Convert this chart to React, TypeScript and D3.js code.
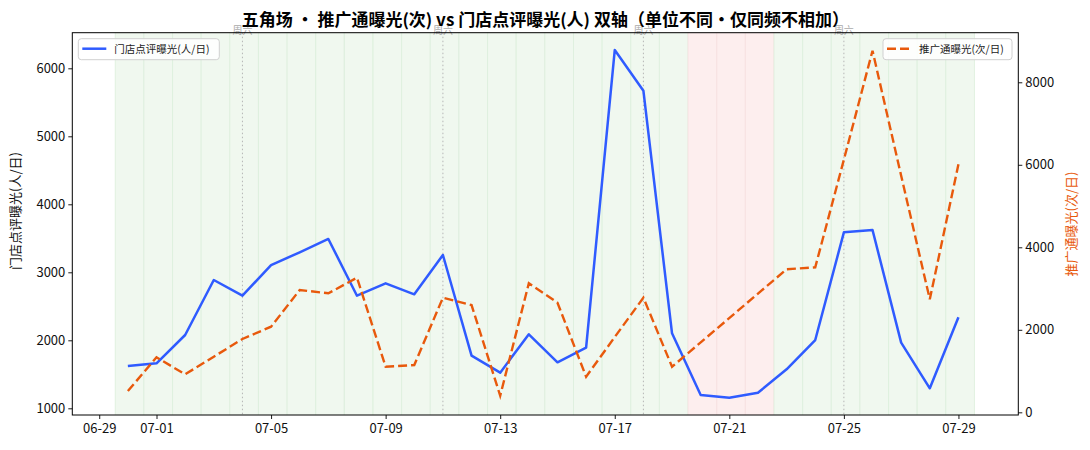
import React, { useRef, useEffect } from 'react';
import * as d3 from 'd3';

// 日期（月-日），2026年7月
const days = [
  '06-30', '07-01', '07-02', '07-03', '07-04', '07-05', '07-06', '07-07', '07-08', '07-09',
  '07-10', '07-11', '07-12', '07-13', '07-14', '07-15', '07-16', '07-17', '07-18', '07-19',
  '07-20', '07-21', '07-22', '07-23', '07-24', '07-25', '07-26', '07-27', '07-28', '07-29',
];

// 门店点评曝光(人/日)
const dianpingExposure = [
  1622, 1662, 2078, 2887, 2656, 3107, 3294, 3490, 2656, 2838,
  2676, 3254, 1774, 1524, 2088, 1676, 1891, 6269, 5671, 2103,
  1196, 1156, 1229, 1573, 2004, 3588, 3622, 1965, 1294, 2338,
];

// 推广通曝光(次/日)，07-20 ~ 07-22 无数据
const promoExposure: (number | null)[] = [
  516, 1333, 921, 1348, 1777, 2075, 2965, 2885, 3263, 1105,
  1147, 2778, 2601, 402, 3127, 2657, 863, 1825, 2778, 1105,
  null, null, null, 3467, 3515, 6124, 8766, 5736, 2739, 6012,
];

const pausedDays = ['07-20', '07-21', '07-22'];
const saturdays = ['07-04', '07-11', '07-18', '07-25'];
const xTickLabels = ['06-29', '07-01', '07-05', '07-09', '07-13', '07-17', '07-21', '07-25', '07-29'];
const leftTicks = [1000, 2000, 3000, 4000, 5000, 6000];
const rightTicks = [0, 2000, 4000, 6000, 8000];

const BLUE = '#2f5bff';
const ORANGE = '#e8590c';
const FONT = '"Noto Sans CJK SC", "Noto Sans", sans-serif';
const DAY = 86400000;

const toDate = (md: string) => {
  const [m, d] = md.split('-').map(Number);
  return new Date(2026, m - 1, d);
};
const shift = (dt: Date, n: number) => new Date(dt.getTime() + n * DAY);

export default function App() {
  const svgRef = useRef<SVGSVGElement>(null);

  useEffect(() => {
    if (!svgRef.current) return;
    const W = 1090, H = 450;
    const margin = { top: 32.7, right: 1090 - 1018.3, bottom: 450 - 415, left: 72.3 };

    const svg = d3.select(svgRef.current).attr('width', W).attr('height', H);
    svg.selectAll('*').remove();

    const x0 = toDate('07-01');
    const x = d3.scaleTime()
      .domain([shift(x0, -2.94), shift(x0, 30.09)])
      .range([margin.left, W - margin.right]);
    const yL = d3.scaleLinear().domain([901.5, 6523.5]).range([H - margin.bottom, margin.top]);
    const yR = d3.scaleLinear().domain([-65, 9202]).range([H - margin.bottom, margin.top]);

    const g = svg.append('g');

    // 每日背景色带
    days.forEach(d => {
      const dt = toDate(d);
      const paused = pausedDays.includes(d);
      const xa = x(shift(dt, -0.44)), xb = x(shift(dt, 0.56));
      g.append('rect')
        .attr('x', xa).attr('y', margin.top)
        .attr('width', xb - xa).attr('height', H - margin.bottom - margin.top)
        .attr('fill', paused ? '#fdeeee' : '#f0f8ef');
      [xa, xb].forEach(xv => g.append('line')
        .attr('x1', xv).attr('x2', xv)
        .attr('y1', margin.top).attr('y2', H - margin.bottom)
        .attr('stroke', paused ? '#f8dede' : '#dcefdc').attr('stroke-width', 0.8));
    });

    // 周六虚线 + 标注
    saturdays.forEach(d => {
      const xv = x(toDate(d));
      g.append('line')
        .attr('x1', xv).attr('x2', xv)
        .attr('y1', margin.top).attr('y2', H - margin.bottom)
        .attr('stroke', '#b5b5b5').attr('stroke-width', 1)
        .attr('stroke-dasharray', '1.5,2.5');
      g.append('text')
        .attr('x', xv).attr('y', margin.top + 1)
        .attr('text-anchor', 'middle')
        .attr('font-family', FONT).attr('font-size', 10)
        .attr('fill', '#aaaaaa')
        .text('周六');
    });

    // 门店点评曝光（左轴）
    const blueLine = d3.line<number>()
      .x((_, i) => x(toDate(days[i])))
      .y(v => yL(v));
    g.append('path')
      .datum(dianpingExposure)
      .attr('d', blueLine)
      .attr('fill', 'none').attr('stroke', BLUE).attr('stroke-width', 2.5)
      .attr('stroke-linejoin', 'round');

    // 推广通曝光（右轴，虚线）
    const promoPts = days
      .map((d, i) => ({ d: toDate(d), v: promoExposure[i] }))
      .filter(p => p.v !== null) as { d: Date; v: number }[];
    const orangeLine = d3.line<{ d: Date; v: number }>()
      .x(p => x(p.d))
      .y(p => yR(p.v));
    g.append('path')
      .datum(promoPts)
      .attr('d', orangeLine)
      .attr('fill', 'none').attr('stroke', ORANGE).attr('stroke-width', 2.4)
      .attr('stroke-dasharray', '9,4');

    // 坐标轴
    const styleAxis = (ax: d3.Selection<SVGGElement, unknown, null, undefined>) => {
      ax.select('.domain').remove();
      ax.selectAll('line').attr('stroke', '#000').attr('stroke-width', 0.9);
      ax.selectAll('text').attr('font-family', FONT).attr('font-size', 13).attr('fill', '#111');
    };
    const xAx = svg.append('g')
      .attr('transform', `translate(0,${H - margin.bottom})`)
      .call(d3.axisBottom(x).tickValues(xTickLabels.map(toDate))
        .tickFormat(d => d3.timeFormat('%m-%d')(d as Date))
        .tickSizeInner(4).tickSizeOuter(0).tickPadding(5));
    styleAxis(xAx);
    const lAx = svg.append('g')
      .attr('transform', `translate(${margin.left},0)`)
      .call(d3.axisLeft(yL).tickValues(leftTicks).tickFormat(d3.format('d'))
        .tickSizeInner(4).tickSizeOuter(0).tickPadding(3));
    styleAxis(lAx);
    const rAx = svg.append('g')
      .attr('transform', `translate(${W - margin.right},0)`)
      .call(d3.axisRight(yR).tickValues(rightTicks).tickFormat(d3.format('d'))
        .tickSizeInner(4).tickSizeOuter(0).tickPadding(3));
    styleAxis(rAx);

    // 边框
    svg.append('rect')
      .attr('x', margin.left).attr('y', margin.top)
      .attr('width', W - margin.right - margin.left)
      .attr('height', H - margin.bottom - margin.top)
      .attr('fill', 'none').attr('stroke', '#000').attr('stroke-width', 1);

    // 轴标题
    svg.append('text')
      .attr('transform', 'translate(20,211) rotate(-90)')
      .attr('text-anchor', 'middle')
      .attr('font-family', FONT).attr('font-size', 13).attr('fill', '#111')
      .text('门店点评曝光(人/日)');
    svg.append('text')
      .attr('transform', 'translate(1076,224) rotate(-90)')
      .attr('text-anchor', 'middle')
      .attr('font-family', FONT).attr('font-size', 13).attr('fill', ORANGE)
      .text('推广通曝光(次/日)');

    // 标题
    svg.append('text')
      .attr('x', (margin.left + W - margin.right) / 2).attr('y', 26)
      .attr('text-anchor', 'middle')
      .attr('font-family', FONT).attr('font-size', 17).attr('font-weight', 'bold')
      .attr('fill', '#000')
      .text('五角场 • 推广通曝光(次) vs 门店点评曝光(人) 双轴（单位不同•仅同频不相加）');

    // 图例
    const legend = (lx: number, w: number, label: string, color: string, dash: string | null) => {
      const lg = svg.append('g').attr('transform', `translate(${lx},${margin.top + 6})`);
      lg.append('rect')
        .attr('width', w).attr('height', 21).attr('rx', 3)
        .attr('fill', 'rgba(255,255,255,0.85)').attr('stroke', '#d0d0d0');
      lg.append('line')
        .attr('x1', 4).attr('x2', 28).attr('y1', 10).attr('y2', 10)
        .attr('stroke', color).attr('stroke-width', 2.5)
        .attr('stroke-dasharray', dash);
      lg.append('text')
        .attr('x', 36).attr('y', 14.5)
        .attr('font-family', FONT).attr('font-size', 10.5).attr('fill', '#222')
        .text(label);
    };
    legend(margin.left + 6, 141, '门店点评曝光(人/日)', BLUE, null);
    legend(883, 129, '推广通曝光(次/日)', ORANGE, '9,4');
  }, []);

  return (
    <div style={{ position: 'absolute', left: 0, top: 0, background: '#fff' }}>
      <svg ref={svgRef} style={{ display: 'block' }} />
    </div>
  );
}
